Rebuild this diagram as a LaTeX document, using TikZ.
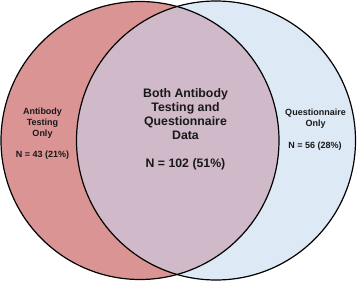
\documentclass[tikz,border=0pt]{standalone}
\usepackage{fontspec}
\setmainfont{Liberation Sans}
\definecolor{leftfill}{RGB}{219,148,148}
\definecolor{rightfill}{RGB}{222,233,246}
\definecolor{midfill}{RGB}{208,185,200}
\definecolor{txt}{RGB}{25,25,25}
\tikzset{
  ring/.style={draw=black, line width=1.2pt},
  smalltext/.style={align=center, text=txt, font=\bfseries\fontsize{9}{11}\selectfont, inner sep=0pt},
  bigtext/.style={align=center, text=txt, font=\bfseries\fontsize{12.3}{14}\selectfont, inner sep=0pt}
}
\begin{document}
\begin{tikzpicture}[x=1pt,y=1pt]
\useasboundingbox (0,0) rectangle (358,281);
\coordinate (cl) at (140,140.5);
\coordinate (cr) at (216,140.5);
\fill[leftfill] (cl) circle[radius=139];
\fill[rightfill] (cr) circle[radius=139.5];
\begin{scope}
  \clip (cl) circle[radius=139];
  \fill[midfill] (cr) circle[radius=139.5];
\end{scope}
\draw[ring] (cl) circle[radius=139];
\draw[ring] (cr) circle[radius=139.5];
% texts
\node[bigtext] (both) at (185.5,167) {Both Antibody\\Testing and\\Questionnaire\\Data};
\node[bigtext] (bothn) at (185.5,116.5) {N = 102 (51\%)};
\node[smalltext] (ab) at (42.5,157.5) {Antibody\\Testing\\Only};
\node[smalltext] (abn) at (42.5,125.5) {N = 43 (21\%)};
\node[smalltext] (q) at (315.5,162.5) {Questionnaire\\Only};
\node[smalltext] (qn) at (315,135) {N = 56 (28\%)};
\end{tikzpicture}
\end{document}
